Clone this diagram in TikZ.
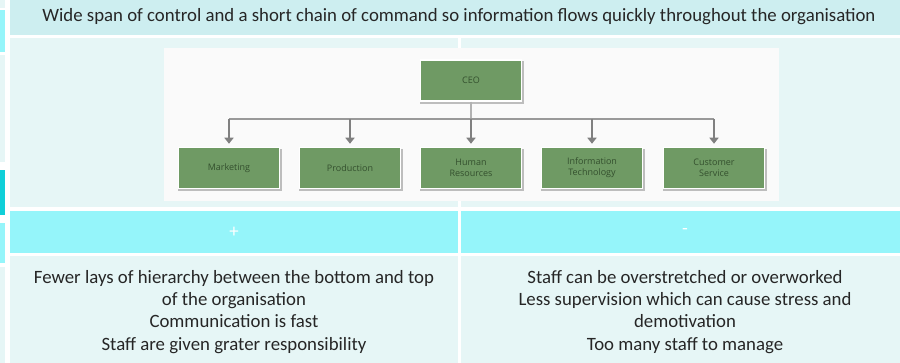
\documentclass[tikz,border=0pt]{standalone}
\usepackage{fontspec}
\setmainfont{Carlito}
\newfontfamily\chartfont{Open Sans}
\usetikzlibrary{arrows.meta,shadows}
\definecolor{headfill}{HTML}{CDEEF0}
\definecolor{cellfill}{HTML}{E6F6F6}
\definecolor{signfill}{HTML}{95F5FA}
\definecolor{tabteal}{HTML}{10CFD8}
\definecolor{boxgreen}{HTML}{6F9A64}
\definecolor{boxtext}{HTML}{34502E}
\definecolor{cardfill}{HTML}{FAFAFA}

\begin{document}
\begin{tikzpicture}[x=1pt,y=-1pt,>={Triangle[width=9pt,length=6pt]},
    unit/.style={rectangle,draw=white,line width=1.5pt,fill=boxgreen,
      minimum width=101pt,minimum height=41pt,inner sep=1pt,align=center,
      font=\chartfont\fontsize{9}{11}\selectfont,text=boxtext,
      general shadow={fill=black!45,opacity=.55,shadow scale=1.03,shadow xshift=1pt,shadow yshift=-2pt}},
    cell/.style={align=center,inner sep=0pt,text=black!85,font=\fontsize{18.8}{22.3}\selectfont}]
  \useasboundingbox (0,0) rectangle (900,363);
  \clip (0,0) rectangle (900,363);
  % bits of the next table on the left
  \fill[cellfill] (0,0) rectangle (5,8);
  \fill[signfill] (0,10) rectangle (5,52);
  \fill[cellfill] (0,55) rectangle (5,162);
  \fill[tabteal] (0,170) rectangle (5,215);
  \fill[signfill] (0,223) rectangle (5,263);
  \fill[cellfill] (0,267) rectangle (5,363);
  % table cells
  \fill[headfill] (10,0) rectangle (910,35);
  \fill[cellfill] (10,38) rectangle (458,207);
  \fill[cellfill] (461,38) rectangle (910,207);
  \fill[signfill] (10,211) rectangle (458,253);
  \fill[signfill] (461,211) rectangle (910,253);
  \fill[cellfill] (10,256) rectangle (458,363);
  \fill[cellfill] (461,256) rectangle (910,363);
  \node[cell] (title) at (459,17) {Wide span of control and a short chain of command so information flows quickly throughout the organisation};
  % org chart
  \fill[cardfill] (164,48) rectangle (779,201);
  \node[unit] (ceo) at (471,80.5) {CEO};
  \node[unit] (mkt) at (229,168) {Marketing};
  \node[unit] (prod) at (350,168) {Production};
  \node[unit] (hr) at (471,168) {Human\\Resources};
  \node[unit] (it) at (592,168) {Information\\Technology};
  \node[unit] (cs) at (714,168) {Customer\\Service};
  \coordinate (bar) at (471,119);
  \draw[gray!60,line width=2pt] (ceo.south) -- (ceo.south |- bar);
  \draw[gray!80,line width=2.8pt] (mkt.north |- bar) -- (cs.north |- bar);
  \foreach \d in {mkt,prod,hr,it,cs}
    \draw[gray,line width=2pt,->] (\d.north |- bar) -- ([yshift=3pt]\d.north);
  % pros and cons
  \node[cell,text=white] (plus) at (234,232) {+};
  \node[cell,text=white] (minus) at (685,232) {-};
  \node[cell,anchor=north] (pros) at (234,270) {Fewer lays of hierarchy between the bottom and top\\of the organisation\\Communication is fast\\Staff are given grater responsibility};
  \node[cell,anchor=north] (cons) at (685,270) {Staff can be overstretched or overworked\\Less supervision which can cause stress and\\demotivation\\Too many staff to manage};
\end{tikzpicture}
\end{document}
